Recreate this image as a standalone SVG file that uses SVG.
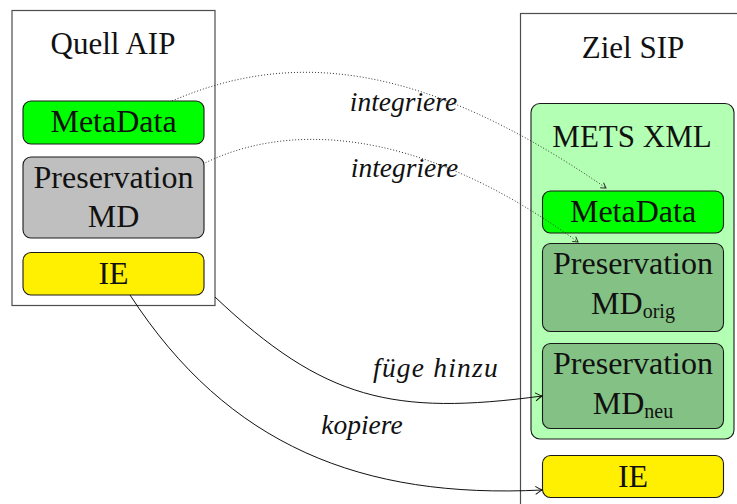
<svg xmlns="http://www.w3.org/2000/svg" width="737" height="504" viewBox="0 0 737 504">
  <defs>
    <style>
      .frame { fill: #ffffff; stroke: #4d4d4d; stroke-width: 1.2; }
      .box { stroke: #1a1a1a; stroke-width: 1.1; }
      .meta { fill: #00ff00; }
      .pres { fill: #bfbfbf; }
      .ie { fill: #ffef00; }
      .mets { fill: #b3ffb3; }
      .presg { fill: #84c184; }
      text { font-family: "Liberation Serif", "DejaVu Serif", serif; fill: #111; }
      .title { font-size: 31px; text-anchor: middle; }
      .lbl { font-size: 32px; text-anchor: middle; }
      .sub { font-size: 20px; }
      .edge { font-size: 27.5px; font-style: italic; text-anchor: middle; }
      .solid { fill: none; stroke: #111; stroke-width: 1; }
      .dotted { fill: none; stroke: #333; stroke-width: 1; stroke-dasharray: 1 2; }
    </style>
    <marker id="tip" viewBox="-8 -5 10 10" refX="0" refY="0" markerWidth="10" markerHeight="10" markerUnits="userSpaceOnUse" orient="auto">
      <path d="M -6.5 -4 Q -2 -1 0 0 Q -2 1 -6.5 4" fill="none" stroke="#111" stroke-width="1"/>
    </marker>
    <marker id="tipsmall" viewBox="-8 -5 10 10" refX="0" refY="0" markerWidth="10" markerHeight="10" markerUnits="userSpaceOnUse" orient="auto">
      <path d="M -5 -3 Q -1.5 -0.8 0 0 Q -1.5 0.8 -5 3" fill="none" stroke="#333" stroke-width="1"/>
    </marker>
  </defs>

  <!-- source package -->
  <g id="quell-aip">
    <rect class="frame" x="12" y="10.5" width="203" height="295"/>
    <text class="title" x="113" y="54">Quell AIP</text>
  </g>
  <g id="quell-metadata">
    <rect class="box meta" x="23" y="101" width="181" height="43" rx="8"/>
    <text class="lbl" x="113.5" y="132">MetaData</text>
  </g>
  <g id="quell-preservation">
    <rect class="box pres" x="23" y="157" width="181" height="81" rx="8"/>
    <text class="lbl" x="113.5" y="188">Preservation</text>
    <text class="lbl" x="113.5" y="227">MD</text>
  </g>
  <g id="quell-ie">
    <rect class="box ie" x="23" y="252.5" width="181" height="42.5" rx="8"/>
    <text class="lbl" x="113.5" y="284">IE</text>
  </g>

  <!-- target package -->
  <g id="ziel-sip">
    <rect class="frame" x="520.5" y="13.5" width="300" height="560"/>
    <text class="title" x="633" y="58">Ziel SIP</text>
  </g>
  <g id="mets-xml">
    <rect class="box mets" x="531" y="103.5" width="203" height="335.5" rx="9"/>
    <text class="title" x="632" y="147">METS XML</text>
  </g>
  <g id="ziel-metadata">
    <rect class="box meta" x="542.5" y="191" width="181" height="42" rx="8"/>
    <text class="lbl" x="633" y="222">MetaData</text>
  </g>
  <g id="preservation-orig">
    <rect class="box presg" x="542.5" y="243.5" width="181" height="88" rx="8"/>
    <text class="lbl" x="633" y="274">Preservation</text>
    <text class="lbl" x="633" y="314">MD<tspan class="sub" dy="4">orig</tspan></text>
  </g>
  <g id="preservation-neu">
    <rect class="box presg" x="542.5" y="343.5" width="181" height="85" rx="8"/>
    <text class="lbl" x="633" y="374">Preservation</text>
    <text class="lbl" x="633" y="414">MD<tspan class="sub" dy="4">neu</tspan></text>
  </g>
  <g id="ziel-ie">
    <rect class="box ie" x="542.5" y="455.5" width="181" height="42" rx="8"/>
    <text class="lbl" x="633" y="487">IE</text>
  </g>

  <!-- connectors -->
  <g id="connectors">
    <path class="dotted" d="M 172 101 C 290 50 420 60 606 188" marker-end="url(#tipsmall)"/>
    <path class="dotted" d="M 203 164 C 280 125 410 120 578 242" marker-end="url(#tipsmall)"/>
    <path class="solid" d="M 215 297 C 324 400 393 416 542 396" marker-end="url(#tip)"/>
    <path class="solid" d="M 130 295 C 228 446 362 499 542 490" marker-end="url(#tip)"/>
    <text class="edge" x="403.5" y="111">integriere</text>
    <text class="edge" x="404.5" y="177">integriere</text>
    <text class="edge" x="436" y="377" letter-spacing="1.2">füge hinzu</text>
    <text class="edge" x="362" y="434">kopiere</text>
  </g>
</svg>
